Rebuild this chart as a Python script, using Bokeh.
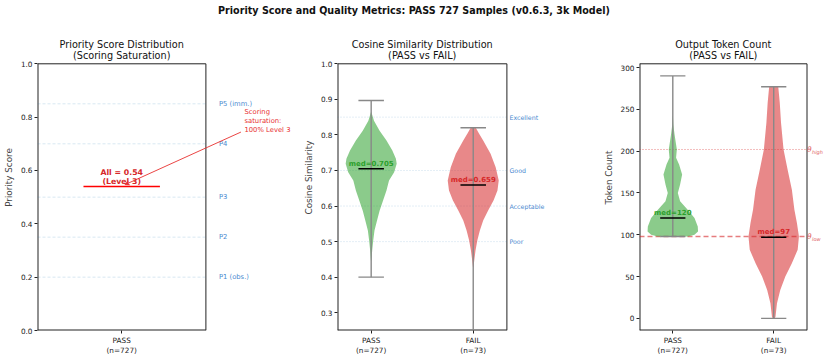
from bokeh.plotting import figure
from bokeh.models import Range1d, FixedTicker, Label, Arrow, VeeHead, Div
from bokeh.layouts import row, column
from bokeh.embed import file_html
from bokeh.resources import INLINE

FONT = "DejaVu Sans"

# ---------------- data ----------------
suptitle = "Priority Score and Quality Metrics: PASS 727 Samples (v0.6.3, 3k Model)"

priority_title = ["Priority Score Distribution", "(Scoring Saturation)"]
priority_groups = ["PASS"]
priority_counts = [727]
priority_value = 0.54
priority_level_name = "Level 3"
priority_levels = [0.2, 0.35, 0.5, 0.7, 0.85]
priority_level_labels = ["P1 (obs.)", "P2", "P3", "P4", "P5 (imm.)"]
priority_ticks = [0.0, 0.2, 0.4, 0.6, 0.8, 1.0]
saturation_note = ["Scoring", "saturation:", "100% Level 3"]

groups = ["PASS", "FAIL"]
group_counts = [727, 73]

cos_title = ["Cosine Similarity Distribution", "(PASS vs FAIL)"]
cos_thresholds = [0.85, 0.7, 0.6, 0.5]
cos_threshold_labels = ["Excellent", "Good", "Acceptable", "Poor"]
cos_ticks = [0.3, 0.4, 0.5, 0.6, 0.7, 0.8, 0.9, 1.0]
cos_min = [0.40, 0.21]
cos_max = [0.897, 0.82]
cos_median = [0.705, 0.659]
# violin outlines: value and relative half-width
cos_pass_y = [0.447, 0.475, 0.503, 0.531, 0.559, 0.587, 0.616, 0.644, 0.672, 0.695, 0.719, 0.733, 0.756, 0.784, 0.812, 0.840, 0.864]
cos_pass_w = [0.01, 0.04, 0.08, 0.13, 0.23, 0.33, 0.47, 0.60, 0.70, 0.90, 1.00, 0.97, 0.83, 0.60, 0.33, 0.11, 0.01]
cos_fail_y = [0.428, 0.447, 0.475, 0.503, 0.531, 0.559, 0.587, 0.616, 0.644, 0.672, 0.709, 0.747, 0.784, 0.805, 0.820]
cos_fail_w = [0.01, 0.04, 0.09, 0.16, 0.26, 0.39, 0.58, 0.80, 0.95, 1.00, 0.88, 0.68, 0.39, 0.22, 0.10]

tok_title = ["Output Token Count", "(PASS vs FAIL)"]
tok_ticks = [0, 50, 100, 150, 200, 250, 300]
tok_min = [98, 0]
tok_max = [290, 277]
tok_median = [120, 97]
tok_pass_y = [98, 100, 104, 110, 120, 130, 140, 150, 160, 172, 184, 192, 202, 208, 220, 232, 242]
tok_pass_w = [0.60, 0.86, 1.00, 0.99, 0.86, 0.59, 0.29, 0.20, 0.29, 0.37, 0.25, 0.13, 0.16, 0.13, 0.07, 0.02, 0.005]
tok_fail_y = [0, 2, 18, 34, 50, 66, 82, 98, 114, 130, 154, 178, 202, 234, 258, 277]
tok_fail_w = [0.04, 0.07, 0.13, 0.26, 0.46, 0.72, 0.95, 1.00, 0.92, 0.82, 0.72, 0.55, 0.39, 0.29, 0.24, 0.18]
theta_high = 202
theta_low = 98

# ---------------- style / layout ----------------
GREEN = "#2ca02c"
RED = "#d62728"
BLUE_TXT = "#4a8ad0"
EDGE = "#222222"
HALF = 0.25
CAP = 0.125
TICK_FS = "7.3px"
FIG_H = 337
BOTTOM = 31
BOX_H = 266.7          # height of the drawn axes box in px
FRAME_H = FIG_H - BOTTOM


def panel(width, left, box_x, box_px, box_y, ylabel, yticks, xticks, xlabels, yfmt, title_lines):
    frame_w = width - left
    sx = box_px / (box_x[1] - box_x[0])
    sy = BOX_H / (box_y[1] - box_y[0])
    xr = (box_x[0], box_x[0] + frame_w / sx)
    yr = (box_y[0], box_y[0] + FRAME_H / sy)
    p = figure(width=width, height=FIG_H, x_range=Range1d(*xr), y_range=Range1d(*yr),
               output_backend="svg", toolbar_location=None,
               min_border_left=left, min_border_right=0,
               min_border_top=0, min_border_bottom=BOTTOM)
    p.title.visible = False
    p.xgrid.visible = False
    p.ygrid.visible = False
    p.outline_line_color = None
    for ax in (p.xaxis[0], p.yaxis[0]):
        ax.axis_line_color = None
        ax.major_tick_line_color = EDGE
        ax.major_tick_out = 3
        ax.major_tick_in = 0
        ax.minor_tick_out = 0
        ax.minor_tick_in = 0
        ax.major_label_text_font = FONT
        ax.major_label_text_font_size = TICK_FS
        ax.major_label_text_color = EDGE
        ax.major_label_standoff = 2
    p.yaxis.ticker = FixedTicker(ticks=yticks)
    p.yaxis.major_label_overrides = {t: yfmt(t) for t in yticks}
    p.yaxis.axis_label = ylabel
    p.yaxis.axis_label_text_font = FONT
    p.yaxis.axis_label_text_font_size = "8.8px"
    p.yaxis.axis_label_text_font_style = "normal"
    p.yaxis.axis_label_standoff = 4
    p.xaxis.ticker = FixedTicker(ticks=xticks)
    p.xaxis.major_label_overrides = {t: l for t, l in zip(xticks, xlabels)}
    # axes box
    x0, x1 = box_x
    y0, y1 = box_y
    p.segment(x0=[x0, x0], y0=[y0, y0], x1=[x0, x1], y1=[y1, y0], line_color=EDGE, line_width=2)
    p.segment(x0=[x1, x0], y0=[y0, y1], x1=[x1, x1], y1=[y1, y1], line_color=EDGE, line_width=1)
    # two-line title centred over the box
    cx = (x0 + x1) / 2
    for line, off in zip(title_lines, (19.5, 8.5)):
        p.add_layout(Label(x=cx, y=y1, y_offset=off, text=line, text_align="center",
                           text_baseline="middle", text_font=FONT, text_font_size="9.7px",
                           text_color="#111111"))
    return p


def hlines(p, box_x, levels, color, alpha, dash, width):
    n = len(levels)
    p.segment(x0=[box_x[0]] * n, y0=levels, x1=[box_x[1]] * n, y1=levels,
              line_color=color, line_alpha=alpha, line_dash=dash, line_width=width)


def violin(p, pos, ys, ws, color, vmin, vmax, med, fmt):
    p.harea(y=ys, x1=[pos - w * HALF for w in ws], x2=[pos + w * HALF for w in ws],
            fill_color=color, fill_alpha=0.55)
    p.segment(x0=[pos], y0=[vmin], x1=[pos], y1=[vmax], line_color="#888888", line_width=1.4)
    p.segment(x0=[pos - CAP, pos - CAP], y0=[vmin, vmax], x1=[pos + CAP, pos + CAP], y1=[vmin, vmax],
              line_color="#888888", line_width=1.4)
    p.segment(x0=[pos - CAP], y0=[med], x1=[pos + CAP], y1=[med], line_color="black", line_width=1.4)
    p.add_layout(Label(x=pos, y=med, text=fmt(med), text_align="center", text_baseline="middle",
                       y_offset=5, text_font=FONT, text_font_size="7px", text_font_style="bold",
                       text_color=color))


# ---------- panel 1 ----------
box1 = (0.5, 1.5)
p1 = panel(300, 37, box1, 168.4, (0.0, 1.0), "Priority Score", priority_ticks, [1],
           [f"{g}\n(n={n})" for g, n in zip(priority_groups, priority_counts)],
           lambda t: f"{t:.1f}", priority_title)
hlines(p1, box1, priority_levels, "#1f77b4", 0.22, "3 2", 0.8)
for lv, lab in zip(priority_levels, priority_level_labels):
    p1.add_layout(Label(x=box1[1], x_offset=13, y=lv, text=lab, text_align="left", text_baseline="middle",
                        text_font=FONT, text_font_size="6.8px", text_color=BLUE_TXT))
p1.segment(x0=[1 - 0.227], y0=[priority_value], x1=[1 + 0.227], y1=[priority_value],
           line_color="red", line_width=1.6)
for line, off in zip([f"All = {priority_value:.2f}", f"({priority_level_name})"], (14, 4.6)):
    p1.add_layout(Label(x=1, y=priority_value, y_offset=off, text=line, text_align="center",
                        text_baseline="middle", text_font=FONT, text_font_size="7.8px",
                        text_font_style="bold", text_color=RED))
p1.add_layout(Arrow(x_start=1.708, y_start=0.744, x_end=1.02, y_end=0.547,
                    line_color="#e8302f", line_width=0.9,
                    end=VeeHead(size=4, line_color="#e8302f", fill_color="#e8302f", line_width=0.9)))
for i, line in enumerate(saturation_note):
    p1.add_layout(Label(x=1.729, y=0.835, y_offset=-4.5 - 8.8 * i, text=line,
                        text_align="left", text_baseline="middle",
                        text_font=FONT, text_font_size="6.8px", text_color="#e8302f"))

# ---------- panel 2 ----------
xlabels = [f"{g}\n(n={n})" for g, n in zip(groups, group_counts)]
box2 = (0.67, 2.33)
p2 = panel(300, 37, box2, 169.4, (0.25, 1.0), "Cosine Similarity", cos_ticks, [1, 2], xlabels,
           lambda t: f"{t:.1f}", cos_title)
hlines(p2, box2, cos_thresholds, "#1f77b4", 0.3, "1 2", 0.8)
for lv, lab in zip(cos_thresholds, cos_threshold_labels):
    p2.add_layout(Label(x=box2[1], x_offset=2.5, y=lv, text=lab, text_align="left", text_baseline="middle",
                        text_font=FONT, text_font_size="6.3px", text_color=BLUE_TXT))
violin(p2, 1, cos_pass_y, cos_pass_w, GREEN, cos_min[0], cos_max[0], cos_median[0], lambda m: f"med={m:.3f}")
violin(p2, 2, cos_fail_y, cos_fail_w, RED, cos_min[1], cos_max[1], cos_median[1], lambda m: f"med={m:.3f}")

# ---------- panel 3 ----------
box3 = (0.67, 2.33)
p3 = panel(228, 38, box3, 168.4, (-14.5, 304.5), "Token Count", tok_ticks, [1, 2], xlabels,
           lambda t: f"{t:d}", tok_title)
hlines(p3, box3, [theta_high], RED, 0.6, "1 2", 1.0)
hlines(p3, box3, [theta_low], RED, 0.6, "5 3", 1.5)
violin(p3, 1, tok_pass_y, tok_pass_w, GREEN, tok_min[0], tok_max[0], tok_median[0], lambda m: f"med={m}")
violin(p3, 2, tok_fail_y, tok_fail_w, RED, tok_min[1], tok_max[1], tok_median[1], lambda m: f"med={m}")
for th, sub in ((theta_high, "high"), (theta_low, "low")):
    p3.add_layout(Label(x=box3[1], y=th, text="θ", text_align="left", text_baseline="middle",
                        text_font=FONT, text_font_size="7.5px", text_font_style="italic",
                        text_color="#e06060"))
    p3.add_layout(Label(x=box3[1], y=th, x_offset=5, y_offset=-2.5, text=sub, text_align="left",
                        text_baseline="middle", text_font=FONT, text_font_size="5px",
                        text_font_style="italic", text_color="#e06060"))

title_div = Div(text=(f'<div style="width:828px;text-align:center;font-family:\'DejaVu Sans\';'
                      f'font-weight:bold;font-size:9.6px;line-height:22px;color:#111;">{suptitle}</div>'),
                width=828, height=24, margin=(0, 0, 0, 0))

layout = column(title_div, row(p1, p2, p3, spacing=0), spacing=0)
open("out.html", "w").write(file_html(layout, INLINE))
